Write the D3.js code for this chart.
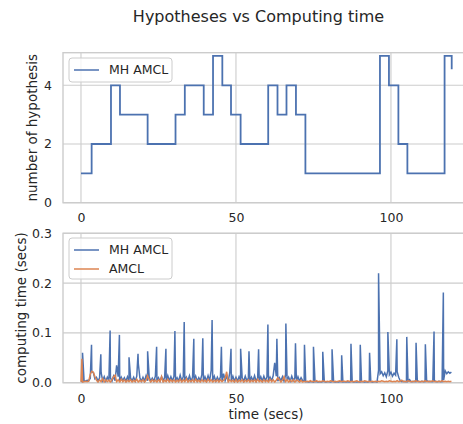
<!DOCTYPE html>
<html>
<head>
<meta charset="utf-8">
<script src="https://cdn.jsdelivr.net/npm/d3@7"></script>
<style>
html,body{margin:0;padding:0;background:#fff;}
svg{display:block;font-family:"DejaVu Sans",sans-serif;}
</style>
</head>
<body>
<svg id="chart" width="463" height="424"></svg>
<script>
// ---------------- data ----------------
const chartTitle = "Hypotheses vs Computing time";
const xTicks = [0, 50, 100];
const hypYTicks = [0, 2, 4];
const timeYTicks = [0.0, 0.1, 0.2, 0.3];
const timeYTickLabels = ["0.0", "0.1", "0.2", "0.3"];
const seriesNames = ["MH AMCL", "AMCL"];

// number of hypotheses: time of each change (secs) and the level from then on
const hypChangeTimes = [0, 3.44, 9.68, 12.58, 21.5, 30.5, 33.5, 39.6, 42.6, 45.6, 48.4, 51.5,
  60.4, 63.4, 66.3, 69.35, 72.4, 96.45, 99.35, 102.4, 105.3, 117.3, 119.6];
const hypLevels = [1, 2, 4, 3, 2, 3, 4, 3, 5, 4, 3, 2,
  4, 3, 4, 3, 1, 5, 4, 2, 1, 5, 4.55];

// computing time, background level sampled every 0.5 s (in milliseconds)
const sampleStep = 0.5;
const mhBaseMs = [
  3,2,4,3,5,4,9,22,20,8,
  11,3,10,20,4,12,3,11,4,10,
  3,13,4,35,12,3,11,4,10,3,
  12,3,9,4,11,3,13,38,10,3,
  11,3,14,4,12,3,9,3,13,4,
  10,3,12,4,11,3,14,4,12,3,
  13,4,10,3,15,4,12,3,11,4,
  14,3,11,4,13,3,10,4,16,3,
  12,3,14,4,25,4,13,3,11,4,
  12,3,18,4,14,3,20,4,13,3,
  11,3,12,4,10,3,13,4,9,3,
  11,4,14,3,10,4,12,3,13,4,
  12,3,11,4,14,40,13,3,10,4,
  12,3,15,4,11,3,13,4,10,3,
  12,3,10,4,3,2,2,1,2,2,
  1,2,2,1,2,1,2,2,1,2,
  2,1,2,2,1,2,1,2,2,1,
  2,1,2,1,2,2,1,2,1,2,
  1,2,2,1,2,1,2,2,1,2,
  2,1,25,18,22,14,20,12,24,16,
  21,13,19,15,22,11,4,2,3,2,
  2,3,6,2,2,3,2,4,2,2,
  3,2,2,5,2,3,2,2,4,2,
  2,3,2,2,5,24,18,22,19,21
];
const amclBaseMs = [
  2,1,2,3,2,3,17,23,21,12,
  5,1,6,2,8,1,6,2,5,1,
  6,12,15,2,6,1,7,2,6,1,
  5,2,6,1,5,2,7,1,5,2,
  6,1,5,14,6,1,6,2,5,1,
  6,2,12,1,5,2,7,1,6,2,
  6,1,5,2,7,1,6,2,8,1,
  5,2,6,1,7,2,5,1,6,2,
  5,1,7,2,6,1,5,2,6,1,
  6,2,5,9,22,1,6,2,5,1,
  6,1,5,2,6,1,5,2,6,1,
  5,2,6,1,7,2,5,1,6,2,
  5,1,7,2,6,1,5,10,6,1,
  5,12,2,6,1,5,2,6,1,5,
  4,1,5,1,3,2,3,2,4,2,
  3,2,4,2,3,2,4,3,2,3,
  2,4,3,2,3,2,3,4,2,3,
  3,2,4,3,2,3,2,3,4,2,
  2,3,2,4,3,2,3,2,3,2,
  3,2,3,2,4,3,2,3,2,4,
  3,2,3,2,4,2,3,5,2,3,
  2,4,3,2,3,2,4,2,3,2,
  3,2,4,2,3,2,3,4,2,3,
  2,3,2,4,2,3,2,3,2,3
];
// periodic peaks of computing time (secs)
const mhSpikeTimes = [0.5, 3.4, 6.4, 9.4, 12.4, 15.5, 18.4, 21.5, 24.4, 27.4, 30.3, 33.3,
  36.4, 39.3, 42.3, 45.3, 48.4, 51.5, 54.2, 57.3, 60.3, 63.2, 66.1, 69.2, 72.1, 75.0,
  78.0, 81.0, 84.1, 87.1, 90.1, 93.1, 96.0, 99.0, 101.9, 105.1, 108.1, 111.1, 113.9, 116.9];
const mhSpikeValues = [0.060, 0.076, 0.057, 0.105, 0.096, 0.051, 0.058, 0.063, 0.072, 0.068, 0.104, 0.122,
  0.088, 0.089, 0.126, 0.072, 0.068, 0.068, 0.063, 0.067, 0.117, 0.088, 0.119, 0.079, 0.076, 0.072,
  0.062, 0.067, 0.055, 0.078, 0.076, 0.060, 0.220, 0.102, 0.087, 0.092, 0.080, 0.077, 0.103, 0.181];
const amclSpikeTimes = [0.3];
const amclSpikeValues = [0.048];

// ---------------- drawing ----------------
const blue = "#4c72b0", orange = "#dd8452", gridCol = "#cccccc", textCol = "#262626";
const svg = d3.select("#chart");

const xScale = d3.scaleLinear().domain([-5.8, 125.5]).range([63, 470]);
const yHyp = d3.scaleLinear().domain([0, 5.11]).range([202.7, 52.7]);
const yTime = d3.scaleLinear().domain([0, 0.3]).range([382.7, 233.3]);

function buildSeries(baseMs, spikeT, spikeV) {
  const pts = baseMs.map((v, i) => ({t: i * sampleStep, v: v / 1000}));
  spikeT.forEach((t, i) => pts.push({t: t, v: spikeV[i]}));
  pts.sort((a, b) => a.t - b.t);
  return pts;
}

function drawPanel(yScale, yTicks, yLabels, xPad, id) {
  const [x0, x1] = xScale.range();
  const [yb, yt] = yScale.range();
  const g = svg.append("g");
  g.selectAll(".vg").data(xTicks).enter().append("line")
    .attr("x1", d => xScale(d)).attr("x2", d => xScale(d))
    .attr("y1", yt).attr("y2", yb)
    .attr("stroke", gridCol).attr("stroke-width", 1.1);
  g.selectAll(".hg").data(yTicks).enter().append("line")
    .attr("x1", x0).attr("x2", x1)
    .attr("y1", d => yScale(d)).attr("y2", d => yScale(d))
    .attr("stroke", gridCol).attr("stroke-width", 1.1);
  g.append("rect").attr("x", x0).attr("y", yt).attr("width", x1 - x0).attr("height", yb - yt)
    .attr("fill", "none").attr("stroke", gridCol).attr("stroke-width", 1.4);
  const xa = svg.append("g").attr("transform", `translate(0,${yb})`)
    .call(d3.axisBottom(xScale).tickValues(xTicks).tickSize(0).tickPadding(xPad).tickFormat(d3.format("d")));
  const ya = svg.append("g").attr("transform", `translate(${x0},0)`)
    .call(d3.axisLeft(yScale).tickValues(yTicks).tickSize(0).tickPadding(11)
      .tickFormat((d, i) => yLabels ? yLabels[i] : d3.format("d")(d)));
  [xa, ya].forEach(a => {
    a.select(".domain").remove();
    a.selectAll("text").attr("fill", textCol).style("font-size", "12.5px").style("font-family", "DejaVu Sans");
  });
  svg.append("clipPath").attr("id", id).append("rect")
    .attr("x", x0).attr("y", yt).attr("width", x1 - x0).attr("height", yb - yt);
}

svg.append("text").attr("x", 258.5).attr("y", 22).attr("text-anchor", "middle")
  .attr("fill", textCol).style("font-size", "16px").text(chartTitle);

drawPanel(yHyp, hypYTicks, null, 10, "clipTop");
const hypPts = hypChangeTimes.map((t, i) => ({t: t, v: hypLevels[i]}));
svg.append("path").datum(hypPts)
  .attr("clip-path", "url(#clipTop)")
  .attr("fill", "none").attr("stroke", blue).attr("stroke-width", 1.8)
  .attr("d", d3.line().x(d => xScale(d.t)).y(d => yHyp(d.v)).curve(d3.curveStepAfter));

drawPanel(yTime, timeYTicks, timeYTickLabels, 11.5, "clipBot");
const mhPts = buildSeries(mhBaseMs, mhSpikeTimes, mhSpikeValues);
const amclPts = buildSeries(amclBaseMs, amclSpikeTimes, amclSpikeValues);
const lineT = d3.line().x(d => xScale(d.t)).y(d => yTime(d.v));
svg.append("path").datum(mhPts).attr("clip-path", "url(#clipBot)")
  .attr("fill", "none").attr("stroke", blue).attr("stroke-width", 1.5)
  .attr("d", lineT);
svg.append("path").datum(amclPts).attr("clip-path", "url(#clipBot)")
  .attr("fill", "none").attr("stroke", orange).attr("stroke-width", 1.5)
  .attr("d", lineT);

svg.append("text").attr("transform", "translate(32.5,127.7) rotate(-90)")
  .attr("text-anchor", "middle").attr("dy", "0.35em").attr("fill", textCol)
  .style("font-size", "13.5px").text("number of hypothesis");
svg.append("text").attr("transform", "translate(21,308) rotate(-90)")
  .attr("text-anchor", "middle").attr("dy", "0.35em").attr("fill", textCol)
  .style("font-size", "13.5px").text("computing time (secs)");
svg.append("text").attr("x", 266).attr("y", 419).attr("text-anchor", "middle")
  .attr("fill", textCol).style("font-size", "13.5px").text("time (secs)");

function legend(y0, h, items) {
  const g = svg.append("g");
  g.append("rect").attr("x", 69).attr("y", y0).attr("width", 103).attr("height", h)
    .attr("rx", 3).attr("fill", "#fff").attr("fill-opacity", 0.8)
    .attr("stroke", gridCol).attr("stroke-width", 1);
  items.forEach((it, i) => {
    const yy = y0 + 12 + i * 19;
    g.append("line").attr("x1", 74).attr("x2", 99).attr("y1", yy).attr("y2", yy)
      .attr("stroke", it.color).attr("stroke-width", 1.5);
    g.append("text").attr("x", 109).attr("y", yy).attr("dy", "0.35em")
      .attr("fill", textCol).style("font-size", "12.5px").text(it.name);
  });
}
legend(58, 24, [{name: seriesNames[0], color: blue}]);
legend(238, 41, [{name: seriesNames[0], color: blue}, {name: seriesNames[1], color: orange}]);
</script>
</body>
</html>
